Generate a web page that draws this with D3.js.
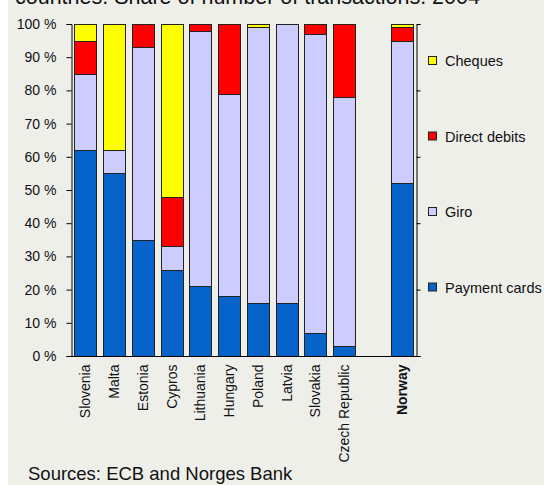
<!DOCTYPE html>
<html>
<head>
<meta charset="utf-8">
<script src="https://cdn.jsdelivr.net/npm/d3@7"></script>
<style>
  html, body { margin: 0; padding: 0; background: #ffffff; }
  svg { display: block; font-family: "Liberation Sans", Arial, sans-serif; }
</style>
</head>
<body>
<svg id="chart" width="544" height="485"></svg>
<script>
// Share of number of transactions by payment instrument, 2004 (per cent)
const countries = ["Slovenia", "Malta", "Estonia", "Cypros", "Lithuania", "Hungary",
                   "Poland", "Latvia", "Slovakia", "Czech Republic", "Norway"];
const paymentCards = [62, 55, 35, 26, 21, 18, 16, 16, 7, 3, 52];
const giro         = [23, 7, 58, 7, 77, 61, 83, 84, 90, 75, 43];
const directDebits = [10, 0, 7, 15, 2, 21, 0, 0, 3, 22, 4];
const cheques      = [5, 38, 0, 52, 0, 0, 1, 0, 0, 0, 1];
const yTicks = [0, 10, 20, 30, 40, 50, 60, 70, 80, 90, 100];
const rightTicks = [0, 20, 40, 60, 80, 100];

const seriesKeys = ["Payment cards", "Giro", "Direct debits", "Cheques"];
const seriesColors = {
  "Payment cards": "#0563c9",
  "Giro": "#ccccff",
  "Direct debits": "#ff0000",
  "Cheques": "#ffff00"
};
const seriesValues = {
  "Payment cards": paymentCards,
  "Giro": giro,
  "Direct debits": directDebits,
  "Cheques": cheques
};

const rows = countries.map((c, i) => {
  const r = { country: c };
  seriesKeys.forEach(k => r[k] = seriesValues[k][i]);
  return r;
});

const svg = d3.select("#chart");
const FONT = "'Liberation Sans', Arial, sans-serif";

// panel background
svg.append("rect").attr("x", 8).attr("y", 0).attr("width", 536).attr("height", 485)
  .attr("fill", "#efefea");

// title (runs off the top edge)
svg.append("text").attr("x", 15).attr("y", 4)
  .attr("font-size", 21.5).attr("fill", "#111").attr("font-family", FONT)
  .text("countries. Share of number of transactions. 2004");

const plotLeft = 71, plotRight = 416, plotTop = 24, plotBottom = 356;

// blank slot between the EU countries and Norway
const domain = [...countries.slice(0, 10), "__gap", "Norway"];
const x = d3.scaleBand().domain(domain).range([plotLeft, plotRight])
  .paddingInner(0.235).paddingOuter(0.1175);
const y = d3.scaleLinear().domain([0, 100]).range([plotBottom, plotTop]);

const stacked = d3.stack().keys(seriesKeys)(rows);

const g = svg.append("g");
stacked.forEach(layer => {
  g.append("g").attr("fill", seriesColors[layer.key])
    .selectAll("rect").data(layer.filter(d => d[1] - d[0] > 0)).join("rect")
    .attr("x", d => Math.round(x(d.data.country)) + 0.5)
    .attr("width", Math.round(x.bandwidth()))
    .attr("y", d => Math.round(y(d[1])) + 0.5)
    .attr("height", d => Math.max(0, Math.round(y(d[0])) - Math.round(y(d[1]))))
    .attr("stroke", "#222")
    .attr("stroke-width", 1);
});

// left axis
const yAxis = d3.axisLeft(y).tickValues(yTicks).tickSize(5).tickPadding(10)
  .tickFormat(d => d + " %");
const ya = svg.append("g").attr("transform", `translate(${plotLeft + 0.5},0)`).call(yAxis);
ya.select(".domain").attr("stroke", "#000");
ya.selectAll(".tick line").attr("stroke", "#000");
ya.selectAll("text").attr("font-size", 14).attr("fill", "#111")
  .attr("font-family", FONT);

// right axis (unlabelled)
const yAxisR = d3.axisRight(y).tickValues(rightTicks).tickSize(4).tickFormat("");
const yr = svg.append("g").attr("transform", `translate(${plotRight + 0.5},0)`).call(yAxisR);
yr.select(".domain").attr("stroke", "#000");
yr.selectAll(".tick line").attr("stroke", "#000");

// bottom axis
const xAxis = d3.axisBottom(x).tickSize(0).tickPadding(0)
  .tickFormat(d => d === "__gap" ? "" : d);
const xa = svg.append("g").attr("transform", `translate(0,${plotBottom + 0.5})`).call(xAxis);
xa.select(".domain").attr("stroke", "#000").attr("d", `M${plotLeft},0H${plotRight + 1}`);
xa.selectAll(".tick text")
  .attr("font-size", 14).attr("fill", "#111")
  .attr("font-family", FONT)
  .attr("font-weight", d => d === "Norway" ? "bold" : "normal")
  .attr("text-anchor", "end")
  .attr("dy", "0.35em")
  .attr("transform", "translate(0,8) rotate(-90)")
  .attr("x", 0).attr("y", 0);

// legend (top to bottom: Cheques, Direct debits, Giro, Payment cards)
const legendKeys = seriesKeys.slice().reverse();
const lg = svg.append("g");
legendKeys.forEach((k, i) => {
  const ly = 61 + i * 75.5;
  lg.append("rect").attr("x", 428.5).attr("y", ly - 4.5).attr("width", 8).attr("height", 8)
    .attr("fill", seriesColors[k]).attr("stroke", "#222");
  lg.append("text").attr("x", 445).attr("y", ly).attr("dy", "0.35em")
    .attr("font-size", 14.5).attr("fill", "#111").attr("font-family", FONT).text(k);
});

// source note
svg.append("text").attr("x", 28).attr("y", 480)
  .attr("font-size", 18.5).attr("fill", "#111").attr("font-family", FONT)
  .text("Sources: ECB and Norges Bank");
</script>
</body>
</html>
